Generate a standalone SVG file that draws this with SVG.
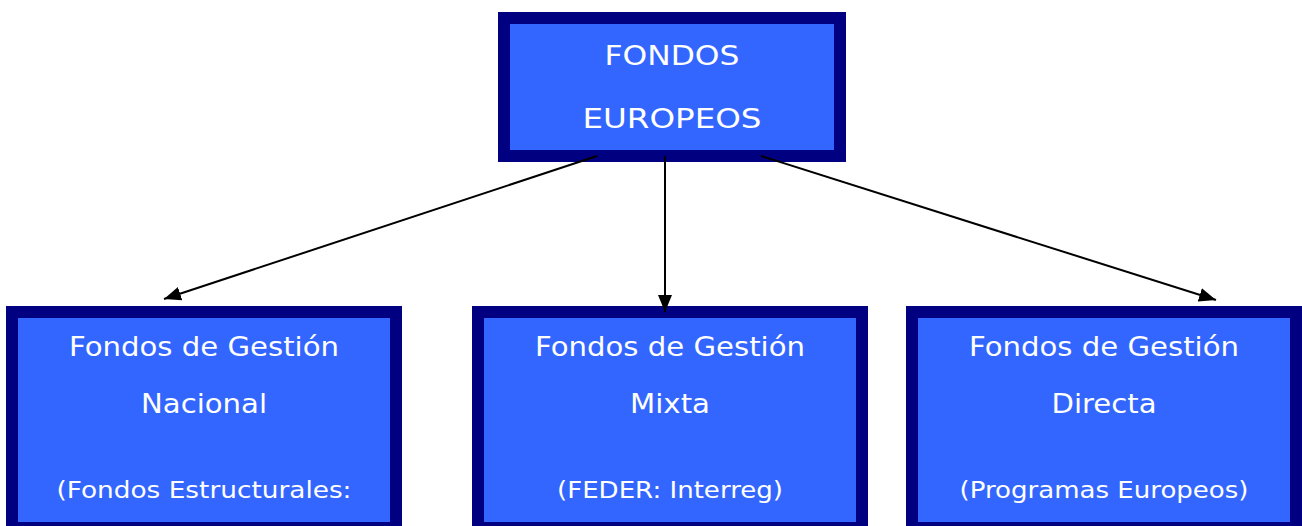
<svg xmlns="http://www.w3.org/2000/svg" width="1302" height="526" viewBox="0 0 1302 526">
<style>
.box{fill:#3366FF;stroke:#000080;stroke-width:12}
.t{font-family:"DejaVu Sans",Verdana,sans-serif;fill:#FFFFFF;text-anchor:middle}
.l1{font-size:26.5px}
.l3{font-size:22.5px}
.top{font-size:27px}
.con{stroke:#000000;stroke-width:2;fill:none}
</style>
<defs>
<marker id="ah" markerUnits="userSpaceOnUse" markerWidth="18" markerHeight="14" refX="17" refY="7" orient="auto">
<path d="M0,0 L17,7 L0,14 z" fill="#000000"/>
</marker>
</defs>
<rect width="1302" height="526" fill="#FFFFFF"/>
<g id="fondos-europeos">
<rect class="box" x="504" y="18" width="336" height="138"/>
<text class="t top" x="672" y="65" textLength="135" lengthAdjust="spacingAndGlyphs">FONDOS</text>
<text class="t top" x="672" y="128" textLength="179" lengthAdjust="spacingAndGlyphs">EUROPEOS</text>
</g>
<g id="gestion-nacional">
<rect class="box" x="12" y="312" width="384" height="216"/>
<text class="t l1" x="204" y="356" textLength="270" lengthAdjust="spacingAndGlyphs">Fondos de Gestión</text>
<text class="t l1" x="204" y="413" textLength="126" lengthAdjust="spacingAndGlyphs">Nacional</text>
<text class="t l3" x="204" y="498" textLength="295" lengthAdjust="spacingAndGlyphs">(Fondos Estructurales:</text>
</g>
<g id="gestion-mixta">
<rect class="box" x="478" y="312" width="384" height="216"/>
<text class="t l1" x="670" y="356" textLength="270" lengthAdjust="spacingAndGlyphs">Fondos de Gestión</text>
<text class="t l1" x="670" y="413" textLength="80" lengthAdjust="spacingAndGlyphs">Mixta</text>
<text class="t l3" x="670" y="498" textLength="226" lengthAdjust="spacingAndGlyphs">(FEDER: Interreg)</text>
</g>
<g id="gestion-directa">
<rect class="box" x="912" y="312" width="384" height="216"/>
<text class="t l1" x="1104" y="356" textLength="270" lengthAdjust="spacingAndGlyphs">Fondos de Gestión</text>
<text class="t l1" x="1104" y="413" textLength="105" lengthAdjust="spacingAndGlyphs">Directa</text>
<text class="t l3" x="1104" y="498" textLength="289" lengthAdjust="spacingAndGlyphs">(Programas Europeos)</text>
</g>
<g id="connectors">
<line class="con" x1="597" y1="156" x2="164" y2="299" marker-end="url(#ah)"/>
<line class="con" x1="665" y1="156" x2="665" y2="312" marker-end="url(#ah)"/>
<line class="con" x1="761" y1="156" x2="1216" y2="300" marker-end="url(#ah)"/>
</g>
</svg>
